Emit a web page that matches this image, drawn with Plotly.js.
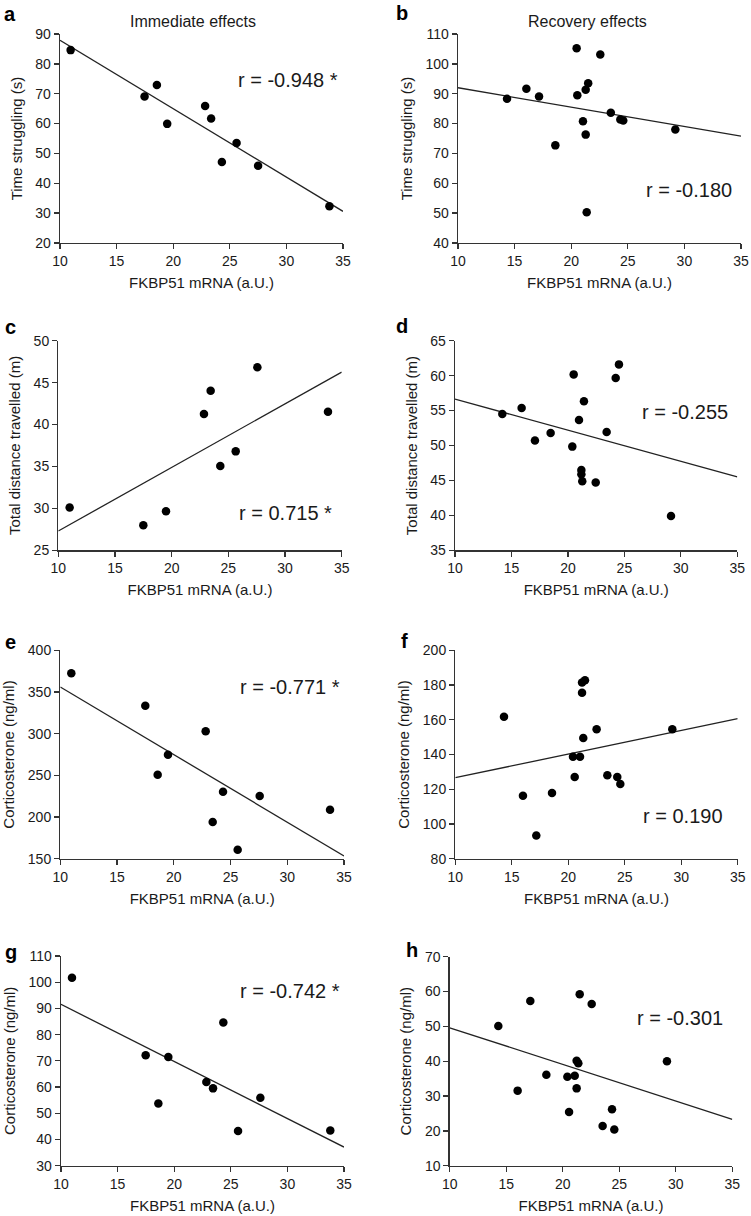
<!DOCTYPE html>
<html>
<head>
<meta charset="utf-8">
<script src="https://cdn.plot.ly/plotly-3.0.1.min.js"></script>
<style>
  html, body { margin: 0; padding: 0; background: #fff; }
  #chart { width: 751px; height: 1216px; }
</style>
</head>
<body>
<div id="chart"></div>
<script>
// ---------------- DATA ----------------
const fitX = [10, 35];

// a: Immediate effects, time struggling
const xA = [10.94, 17.47, 18.56, 19.47, 22.82, 23.35, 24.3, 25.6, 27.5, 33.8];
const yA = [84.6, 69.1, 72.9, 59.9, 65.9, 61.7, 47.1, 53.5, 45.9, 32.3];
const fitA = [87.9, 30.6];

// b: Recovery effects, time struggling
const xB = [14.33, 16.04, 17.16, 18.6, 20.48, 20.54, 21.04, 21.28, 21.28, 21.5, 21.37, 22.57, 23.5, 24.34, 24.6, 29.2];
const yB = [88.3, 91.7, 89.1, 72.7, 105.2, 89.5, 80.8, 91.3, 76.3, 93.5, 50.3, 103.1, 83.6, 81.4, 81.0, 78.0];
const fitB = [92.0, 75.8];

// c: Immediate effects, total distance travelled
const xC = [11.0, 17.5, 19.5, 22.85, 23.44, 24.29, 25.65, 27.56, 33.79];
const yC = [30.1, 28.0, 29.65, 41.26, 44.04, 35.06, 36.8, 46.82, 41.53];
const fitC = [27.3, 46.26];

// d: Recovery effects, total distance travelled
const xD = [14.19, 15.9, 17.08, 18.47, 20.39, 20.51, 20.98, 21.19, 21.19, 21.27, 21.42, 22.46, 23.43, 24.23, 24.52, 29.13];
const yD = [54.51, 55.37, 50.7, 51.8, 49.84, 60.18, 53.65, 46.5, 45.88, 44.88, 56.32, 44.7, 51.93, 59.66, 61.61, 39.92];
const fitD = [56.65, 45.5];

// e: Immediate effects, corticosterone
const xE = [10.97, 17.49, 18.58, 19.49, 22.81, 23.43, 24.34, 25.63, 27.57, 33.77];
const yE = [372.4, 333.6, 250.8, 274.8, 302.8, 194, 230.4, 160.8, 225.2, 208.8];
const fitE = [356, 153.2];

// f: Recovery effects, corticosterone
const xF = [14.31, 15.99, 17.17, 18.56, 20.42, 20.57, 21.04, 21.22, 21.22, 21.48, 21.33, 22.51, 23.46, 24.34, 24.61, 29.21];
const yF = [161.8, 116.3, 93.4, 117.8, 138.75, 127.1, 138.75, 175.6, 181.4, 182.7, 149.5, 154.5, 128, 127.1, 123, 154.5];
const fitF = [126.65, 160.6];

// g: Immediate effects, corticosterone
const xG = [10.97, 17.48, 18.6, 19.48, 22.84, 23.43, 24.34, 25.64, 27.61, 33.79];
const yG = [101.7, 72.1, 53.7, 71.5, 61.9, 59.5, 84.6, 43.2, 55.95, 43.4];
const fitG = [91.56, 37.1];

// h: Recovery effects, corticosterone
const xH = [14.3, 16.01, 17.13, 18.55, 20.41, 20.56, 21.06, 21.23, 21.38, 21.23, 21.5, 22.56, 23.53, 24.36, 24.56, 29.22];
const yH = [50.1, 31.55, 57.3, 36.1, 35.55, 25.4, 35.8, 40.1, 39.4, 32.2, 59.2, 56.4, 21.4, 26.2, 20.4, 40.0];
const fitH = [49.6, 23.3];

const panelLetters = ['a', 'b', 'c', 'd', 'e', 'f', 'g', 'h'];
const rLabels = ['r = -0.948 *', 'r = -0.180', 'r = 0.715 *', 'r = -0.255',
                 'r = -0.771 *', 'r = 0.190', 'r = -0.742 *', 'r = -0.301'];
const yTitles = ['Time struggling (s)', 'Time struggling (s)',
                 'Total distance travelled (m)', 'Total distance travelled (m)',
                 'Corticosterone (ng/ml)', 'Corticosterone (ng/ml)',
                 'Corticosterone (ng/ml)', 'Corticosterone (ng/ml)'];
const xTitle = 'FKBP51 mRNA (a.U.)';
const columnTitles = ['Immediate effects', 'Recovery effects'];
const yRanges = [[20, 90], [40, 110], [25, 50], [35, 65], [150, 400], [80, 200], [30, 110], [10, 70]];
const yTicks = [10, 10, 5, 5, 50, 20, 10, 10];
const xRange = [10, 35];
const xTick = 5;

// ---------------- LAYOUT (pixel geometry) ----------------
const W = 751, H = 1216;
const boxes = [ // [left, right, top, bottom] in page px
  [60, 343, 34, 243],
  [458, 741, 34, 243],
  [58.3, 341.7, 340.7, 550.3],
  [455, 737.3, 340.7, 550.3],
  [60.3, 344, 650.3, 858.7],
  [455.3, 737.7, 650.3, 858.7],
  [61, 344, 956, 1165.7],
  [449.7, 732.3, 956.7, 1165.7]
];
const rPos = [[30.1, 74.7], [30.4, 57.7], [30.0, 29.4], [30.4, 54.75],
              [30.24, 355.6], [30.19, 104.6], [30.2, 96.8], [30.37, 52.3]];
// letter positions: [x centre, text-box centre y] in page px
const letterPos = [[10, 14], [402, 13], [10, 327], [402, 326],
                   [10, 642], [404, 641], [11, 952], [412, 950]];
const colTitlePos = [[193, 21], [587, 21]];

const dataX = [xA, xB, xC, xD, xE, xF, xG, xH];
const dataY = [yA, yB, yC, yD, yE, yF, yG, yH];
const fits = [fitA, fitB, fitC, fitD, fitE, fitF, fitG, fitH];

const FONT = 'Arial, "Liberation Sans", Helvetica, sans-serif';
const INK = '#1a1a1a';

const traces = [];
const layout = {
  width: W, height: H,
  margin: {l: 0, r: 0, t: 0, b: 0},
  paper_bgcolor: '#fff', plot_bgcolor: '#fff',
  showlegend: false,
  font: {family: FONT, color: INK},
  annotations: []
};

for (let i = 0; i < 8; i++) {
  const sfx = i === 0 ? '' : String(i + 1);
  const xa = 'x' + sfx, ya = 'y' + sfx;
  const [l, r, t, b] = boxes[i];
  traces.push({
    type: 'scatter', mode: 'lines', x: fitX, y: fits[i],
    xaxis: xa, yaxis: ya,
    line: {color: '#222', width: 1.3}, hoverinfo: 'skip'
  });
  traces.push({
    type: 'scatter', mode: 'markers', x: dataX[i], y: dataY[i],
    xaxis: xa, yaxis: ya,
    marker: {color: '#000', size: 8.5}, cliponaxis: false
  });
  const axCommon = {
    showline: true, linecolor: '#333', linewidth: 1.3,
    ticks: 'outside', ticklen: 5, tickwidth: 1.3, tickcolor: '#333',
    showgrid: false, zeroline: false, fixedrange: true,
    tickfont: {family: FONT, size: 14, color: INK}
  };
  layout['xaxis' + sfx] = Object.assign({}, axCommon, {
    domain: [l / W, r / W], anchor: ya,
    range: xRange, dtick: xTick, tick0: 0,
    title: {text: xTitle, font: {family: FONT, size: 15, color: INK}, standoff: 9}
  });
  layout['yaxis' + sfx] = Object.assign({}, axCommon, {
    domain: [1 - b / H, 1 - t / H], anchor: xa,
    range: yRanges[i], dtick: yTicks[i], tick0: 0,
    title: {text: yTitles[i], font: {family: FONT, size: 15, color: INK}, standoff: 9}
  });
  layout.annotations.push({
    xref: xa, yref: ya, x: rPos[i][0], y: rPos[i][1],
    text: rLabels[i], showarrow: false,
    xanchor: 'center', yanchor: 'middle',
    font: {family: FONT, size: 20, color: INK}
  });
  layout.annotations.push({
    xref: 'paper', yref: 'paper',
    x: letterPos[i][0] / W, y: 1 - letterPos[i][1] / H,
    text: '<b>' + panelLetters[i] + '</b>', showarrow: false,
    xanchor: 'center', yanchor: 'middle', borderpad: 0,
    font: {family: FONT, size: 20, color: '#000'}
  });
}
for (let c = 0; c < 2; c++) {
  layout.annotations.push({
    xref: 'paper', yref: 'paper',
    x: colTitlePos[c][0] / W, y: 1 - colTitlePos[c][1] / H,
    text: columnTitles[c], showarrow: false,
    xanchor: 'center', yanchor: 'middle',
    font: {family: FONT, size: 16, color: INK}
  });
}

Plotly.newPlot('chart', traces, layout, {staticPlot: true, displayModeBar: false});
</script>
</body>
</html>
